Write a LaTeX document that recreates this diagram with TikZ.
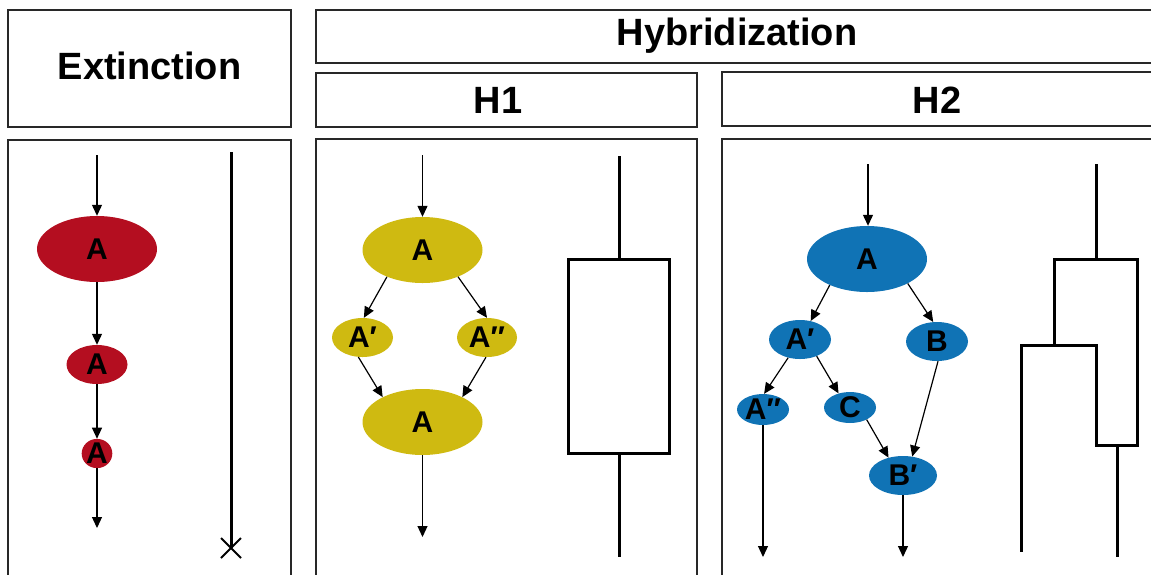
\documentclass[tikz,border=0pt]{standalone}
\usepackage{fontspec}
\setmainfont{Liberation Sans}
\usetikzlibrary{shapes.geometric,arrows.meta,calc}
\definecolor{exred}{RGB}{180,14,32}
\definecolor{hyyel}{RGB}{207,186,17}
\definecolor{hyblue}{RGB}{16,115,181}
\definecolor{boxgray}{RGB}{40,40,40}
\newcommand{\pr}{{\char"2032}}
\newcommand{\dpr}{{\char"2033}}
\tikzset{
  frame/.style={draw=boxgray, line width=1.1pt},
  head/.style={font=\fontsize{38}{38}\selectfont\bfseries},
  sp/.style={ellipse, inner sep=0pt, font=\fontsize{30}{30}\selectfont\bfseries},
  flow/.style={line width=1.2pt, -{Triangle[length=11pt,width=10pt]}},
  thick line/.style={line width=3pt},
}
\begin{document}
\begin{tikzpicture}[x=1pt,y=-1pt]
\useasboundingbox (0,0) rectangle (1151,574);
% header boxes
\draw[frame] (8,10) rectangle (291,127);
\draw[frame] (316,10) rectangle (1160,63);
\draw[frame] (316,73) rectangle (697,127);
\draw[frame] (722,72) rectangle (1160,126);
\node[head] (hext) at (149.5,66) {Extinction};
\node[head] (hhyb) at (737,36) {Hybridization};
\node[head] (hh1) at (498,100) {H1};
\node[head] (hh2) at (937,100) {H2};
% panels
\draw[frame] (8,140) rectangle (291,590);
\draw[frame] (316,139) rectangle (697,590);
\draw[frame] (722,139) rectangle (1160,590);

% ---- Extinction ----
\node[sp, fill=exred, minimum width=120pt, minimum height=66pt] (e1) at (97,249) {A};
\node[sp, fill=exred, minimum width=61pt, minimum height=39pt] (e2) at (97,364.5) {A};
\node[sp, fill=exred, minimum width=28pt, minimum height=27pt] (e3) at (97,453.5) {A};
\coordinate (e0) at (97,155);
\coordinate (e4) at (97,528);
\draw[flow] (e0) -- (e1.north);
\draw[flow] (e1.south) -- (e2.north);
\draw[flow] (e2.south) -- (e3.north);
\draw[flow] (e3.south) -- (e4);
\coordinate (xt) at (231,152);
\coordinate (xb) at (231,548);
\draw[thick line] (xt) -- (xb);
\draw[line width=2pt] ($(xb)+(-10,-10)$) -- ($(xb)+(10,10)$) ($(xb)+(-10,10)$) -- ($(xb)+(10,-10)$);

% ---- H1 ----
\node[sp, fill=hyyel, minimum width=120pt, minimum height=66pt] (h1a) at (422.5,250) {A};
\node[sp, fill=hyyel, minimum width=61pt, minimum height=39pt] (h1p) at (362.5,337.5) {A\pr};
\node[sp, fill=hyyel, minimum width=60pt, minimum height=39pt] (h1pp) at (487,337.5) {A\dpr};
\node[sp, fill=hyyel, minimum width=120pt, minimum height=66pt] (h1b) at (422.5,422) {A};
\coordinate (h1in) at (422.5,155);
\coordinate (h1out) at (422.5,537);
\draw[flow] (h1in) -- (h1a.north);
\draw[flow] (h1a.-143) -- (h1p.86);
\draw[flow] (h1a.-37.6) -- (h1pp.90);
\draw[flow] (h1p.-102) -- (h1b.148);
\draw[flow] (h1pp.-93) -- (h1b.32.7);
\draw[flow] (h1b.south) -- (h1out);
\coordinate (t1a) at (619,156);
\coordinate (t1b) at (619,259);
\coordinate (t1c) at (619,453);
\coordinate (t1d) at (619,557);
\draw[thick line] (t1a) -- (t1b);
\draw[thick line] (568,259) rectangle (669,453);
\draw[thick line] (t1c) -- (t1d);

% ---- H2 ----
\node[sp, fill=hyblue, minimum width=120pt, minimum height=66pt] (h2a) at (867,259) {A};
\node[sp, fill=hyblue, minimum width=62pt, minimum height=39pt] (h2p) at (800,339.5) {A\pr};
\node[sp, fill=hyblue, minimum width=62pt, minimum height=39pt] (h2b) at (937,341.5) {B};
\node[sp, fill=hyblue, minimum width=52pt, minimum height=31pt] (h2pp) at (763,409.5) {A\dpr};
\node[sp, fill=hyblue, minimum width=52pt, minimum height=31pt] (h2c) at (850,407.5) {C};
\node[sp, fill=hyblue, minimum width=68pt, minimum height=39pt] (h2bp) at (903,475.5) {B\pr};
\coordinate (h2in) at (868,164);
\coordinate (h2o1) at (763,557);
\coordinate (h2o2) at (903,557);
\draw[flow] (h2in) -- (h2in |- h2a.north);
\draw[flow] (h2a.-145) -- (h2p.60.6);
\draw[flow] (h2a.-31.6) -- (h2b.101.6);
\draw[flow] (h2p.-123) -- (h2pp.86.5);
\draw[flow] (h2p.-45.8) -- (h2c.129.6);
\draw[flow] (h2c.-36) -- (h2bp.129);
\draw[flow] (h2b.-87) -- (h2bp.64);
\draw[flow] (h2pp.south) -- (h2o1);
\draw[flow] (h2bp.south) -- (h2o2);
\draw[thick line] (1096,164) -- (1096,259);
\draw[thick line, line join=miter] (1054,345) -- (1054,259) -- (1137,259) -- (1137,445) -- (1096,445) -- (1096,345) -- (1021,345) -- (1021,552);
\draw[thick line] (1117,445) -- (1117,557);
\end{tikzpicture}
\end{document}
